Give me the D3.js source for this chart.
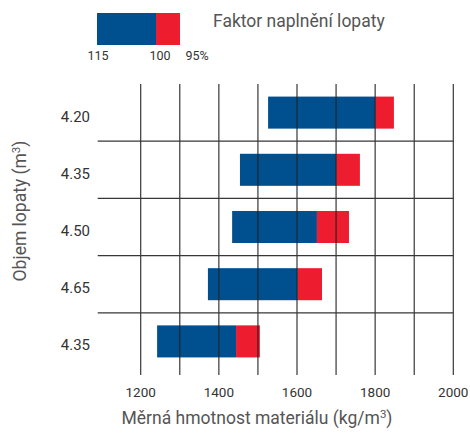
<!DOCTYPE html>
<html>
<head>
<meta charset="utf-8">
<script src="https://cdn.jsdelivr.net/npm/d3@7"></script>
<style>
  body { margin: 0; background: #fff; }
  text { font-family: Roboto, "Noto Sans", sans-serif; }
</style>
</head>
<body>
<div id="chart"></div>
<script>
// objem lopaty (m3) - one row per bar
var volumes = ["4.20", "4.35", "4.50", "4.65", "4.35"];
// měrná hmotnost: at 115 % fill, at 100 % fill, at 95 % fill
var at115 = [1526, 1454, 1434, 1372, 1242];
var at100 = [1800, 1700, 1651, 1602, 1444];
var at95 = [1848, 1761, 1733, 1664, 1505];
var xTicks = [1200, 1300, 1400, 1500, 1600, 1700, 1800, 1900, 2000];
var xLabels = [1200, 1400, 1600, 1800, 2000];
var legendLabels = ["115", "100", "95%"];

var blue = "#00508f", red = "#ed1c2e", gridColor = "#222";

var svg = d3.select("#chart").append("svg")
  .attr("width", 470)
  .attr("height", 437);

var x = d3.scaleLinear().domain([1200, 2000]).range([140.7, 453.3]);
var rows = d3.range(volumes.length);
var y = d3.scaleBand().domain(rows).range([84, 370]);
var barH = y.bandwidth() * 0.56;

var rowsData = rows.map(function(i) {
  return { i: i, v: volumes[i], a: at115[i], b: at100[i], c: at95[i] };
});

// bars
var bars = svg.append("g");
bars.selectAll(".blue")
  .data(rowsData)
  .enter().append("rect")
  .attr("x", d => x(d.a))
  .attr("y", d => y(d.i) + (y.bandwidth() - barH) / 2)
  .attr("width", d => x(d.b) - x(d.a))
  .attr("height", barH)
  .attr("fill", blue);
bars.selectAll(".red")
  .data(rowsData)
  .enter().append("rect")
  .attr("x", d => x(d.b))
  .attr("y", d => y(d.i) + (y.bandwidth() - barH) / 2)
  .attr("width", d => x(d.c) - x(d.b))
  .attr("height", barH)
  .attr("fill", red);

// grid drawn over the bars
var grid = svg.append("g").attr("stroke", gridColor).attr("stroke-width", 1.2).attr("opacity", 0.9);
grid.selectAll(".v")
  .data(xTicks)
  .enter().append("line")
  .attr("x1", d => x(d)).attr("x2", d => x(d))
  .attr("y1", 84).attr("y2", 375);
grid.selectAll(".h")
  .data(rows.slice(1))
  .enter().append("line")
  .attr("x1", x(1090)).attr("x2", x(2000))
  .attr("y1", d => y(d)).attr("y2", d => y(d));

// x labels
svg.append("g").selectAll("text")
  .data(xLabels)
  .enter().append("text")
  .attr("x", d => x(d))
  .attr("y", 397)
  .attr("text-anchor", "middle")
  .attr("font-size", 13.5)
  .attr("fill", "#333")
  .text(d => d);

// y labels
svg.append("g").selectAll("text")
  .data(rowsData)
  .enter().append("text")
  .attr("x", 90)
  .attr("y", d => y(d.i) + y.bandwidth() / 2 + 9)
  .attr("text-anchor", "end")
  .attr("font-size", 15)
  .attr("fill", "#333")
  .text(d => d.v);

// axis titles
var xt = svg.append("text")
  .attr("x", 257)
  .attr("y", 424)
  .attr("text-anchor", "middle")
  .attr("font-size", 17.5)
  .attr("fill", "#555");
xt.append("tspan").text("Měrná hmotnost materiálu (kg/m");
xt.append("tspan").attr("dy", -6).attr("font-size", 11.5).text("3");
xt.append("tspan").attr("dy", 6).text(")");

var yt = svg.append("text")
  .attr("transform", "translate(26,211) rotate(-90)")
  .attr("text-anchor", "middle")
  .attr("font-size", 17.5)
  .attr("fill", "#555");
yt.append("tspan").text("Objem lopaty (m");
yt.append("tspan").attr("dy", -6).attr("font-size", 11.5).text("3");
yt.append("tspan").attr("dy", 6).text(")");

// legend
var lg = svg.append("g");
lg.append("rect").attr("x", 97).attr("y", 13).attr("width", 59).attr("height", 32).attr("fill", blue);
lg.append("rect").attr("x", 156).attr("y", 13).attr("width", 24).attr("height", 32).attr("fill", red);
lg.selectAll(".ll")
  .data(legendLabels)
  .enter().append("text")
  .attr("x", (d, i) => [98, 160, 197][i])
  .attr("y", 60)
  .attr("text-anchor", "middle")
  .attr("font-size", 12.5)
  .attr("fill", "#333")
  .text(d => d);
lg.append("text")
  .attr("x", 213)
  .attr("y", 27)
  .attr("font-size", 17.5)
  .attr("fill", "#555")
  .text("Faktor naplnění lopaty");
</script>
</body>
</html>
